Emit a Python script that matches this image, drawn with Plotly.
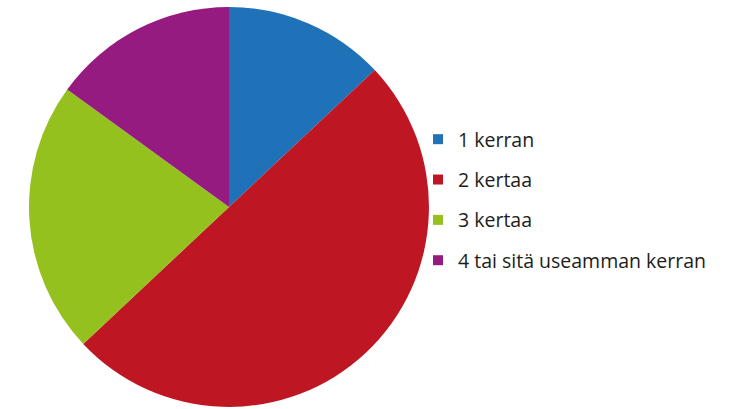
import plotly.graph_objects as go

labels = ["1 kerran", "2 kertaa", "3 kertaa", "4 tai sitä useamman kerran"]
values = [13, 50, 22, 15]
colors = ["#1f71b8", "#be1622", "#95c11f", "#951b81"]

fig = go.Figure()
fig.add_trace(go.Pie(
    labels=labels, values=values, sort=False, direction="clockwise", rotation=0,
    marker=dict(colors=colors, line=dict(width=0)),
    textinfo="none", hoverinfo="label+percent", showlegend=False,
    domain=dict(x=[29/747, 429/747], y=[2/409, 402/409]),
))
for i, (lab, col) in enumerate(zip(labels, colors)):
    fig.add_trace(go.Scatter(
        x=[None], y=[None], mode="markers", name=lab, legendgroup=f"g{i}",
        marker=dict(symbol="square", size=10, color=col),
        showlegend=True,
    ))

fig.update_layout(
    width=747, height=409, margin=dict(l=0, r=0, t=0, b=0),
    paper_bgcolor="white", plot_bgcolor="white",
    xaxis=dict(visible=False), yaxis=dict(visible=False),
    legend=dict(x=418/747, y=1 - 200/409, xanchor="left", yanchor="middle",
                font=dict(family="Open Sans", size=19.5, color="#1d1d1b"),
                tracegroupgap=12, itemwidth=30, bgcolor="rgba(0,0,0,0)"),
)
fig.write_html("out.html", config={"displayModeBar": False},
               post_script="document.body.style.margin='0';document.body.style.padding='0';")
